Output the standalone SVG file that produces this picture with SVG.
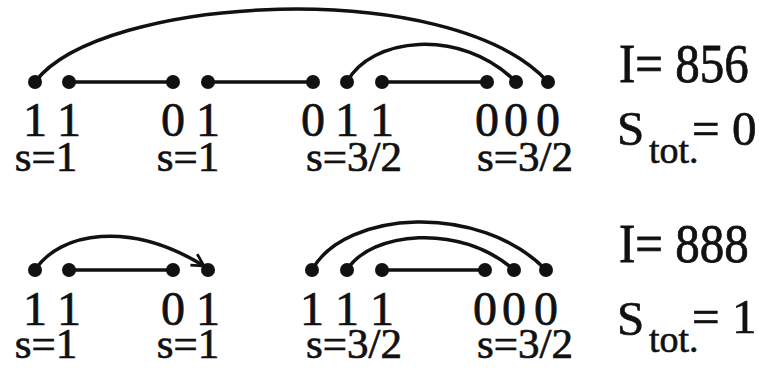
<svg xmlns="http://www.w3.org/2000/svg" width="759" height="369" viewBox="0 0 759 369" font-family="Liberation Serif, DejaVu Serif, serif">
<style>
.bg{fill:#fff}
.dot{fill:#111}
.ln{stroke:#111;stroke-width:3.5;fill:none;stroke-linecap:round}
.arc{stroke:#111;stroke-width:3.5;fill:none;stroke-linecap:round}
.dig{font-size:48px;text-anchor:middle;fill:#111;stroke:#111;stroke-width:0.7}
.sl{font-size:43px;text-anchor:middle;fill:#111;stroke:#111;stroke-width:0.7}
.big{font-size:49px;fill:#111;stroke:#111;stroke-width:0.7}
.sub{font-size:38px;fill:#111;stroke:#111;stroke-width:0.6}
</style>
<defs>
<marker id="vee" markerWidth="16" markerHeight="16" refX="13" refY="8" orient="auto" markerUnits="userSpaceOnUse">
<path d="M1,1.5 L13,8 L1,14.5" fill="none" stroke="#111" stroke-width="2.8"/>
</marker>
</defs>
<rect class="bg" x="0" y="0" width="759" height="369"/>

<g id="connectors">
<path class="arc" d="M35,82 C100,-5 450,-25 548,82"/>
<path class="arc" d="M347,82 C370,38 460,26 516,82"/>
<line class="ln" x1="69" y1="82" x2="173" y2="82"/>
<line class="ln" x1="208" y1="82" x2="313" y2="82"/>
<line class="ln" x1="382" y1="82" x2="487" y2="82"/>
<path class="arc" d="M35,270 C60,232 130,220 204,266" marker-end="url(#vee)"/>
<line class="ln" x1="69" y1="270" x2="173" y2="270"/>
<path class="arc" d="M312,270 C345,210 480,202 546,270"/>
<path class="arc" d="M347,270 C370,232 460,222 514,270"/>
<line class="ln" x1="382" y1="270" x2="485" y2="270"/>
</g>

<g id="row1">
<g id="n1"><circle class="dot" cx="35" cy="82" r="7"/><text class="dig" x="35" y="136">1</text></g>
<g id="n2"><circle class="dot" cx="69" cy="82" r="7"/><text class="dig" x="69" y="136">1</text></g>
<g id="n3"><circle class="dot" cx="173" cy="82" r="7"/><text class="dig" x="173" y="136">0</text></g>
<g id="n4"><circle class="dot" cx="208" cy="82" r="7"/><text class="dig" x="208" y="136">1</text></g>
<g id="n5"><circle class="dot" cx="313" cy="82" r="7"/><text class="dig" x="313" y="136">0</text></g>
<g id="n6"><circle class="dot" cx="347" cy="82" r="7"/><text class="dig" x="347" y="136">1</text></g>
<g id="n7"><circle class="dot" cx="382" cy="82" r="7"/><text class="dig" x="382" y="136">1</text></g>
<g id="n8"><circle class="dot" cx="487" cy="82" r="7"/><text class="dig" x="487" y="136">0</text></g>
<g id="n9"><circle class="dot" cx="516" cy="82" r="7"/><text class="dig" x="516" y="136">0</text></g>
<g id="n10"><circle class="dot" cx="548" cy="82" r="7"/><text class="dig" x="548" y="136">0</text></g>
<g id="s1"><text class="sl" x="46" y="171">s=1</text></g>
<g id="s2"><text class="sl" x="188" y="171">s=1</text></g>
<g id="s3"><text class="sl" x="354" y="171">s=3/2</text></g>
<g id="s4"><text class="sl" x="525" y="171">s=3/2</text></g>
<g id="info1">
<text class="big" transform="translate(619,82) scale(1,1.12)">I= 856</text>
<text class="big" x="617" y="145">S</text>
<text class="sub" x="649" y="163">tot.</text>
<text class="big" x="692" y="145">= 0</text>
</g>
</g>

<g id="row2">
<g id="m1"><circle class="dot" cx="35" cy="270" r="7"/><text class="dig" x="35" y="325">1</text></g>
<g id="m2"><circle class="dot" cx="69" cy="270" r="7"/><text class="dig" x="69" y="325">1</text></g>
<g id="m3"><circle class="dot" cx="173" cy="270" r="7"/><text class="dig" x="173" y="325">0</text></g>
<g id="m4"><circle class="dot" cx="208" cy="270" r="7"/><text class="dig" x="208" y="325">1</text></g>
<g id="m5"><circle class="dot" cx="312" cy="270" r="7"/><text class="dig" x="312" y="325">1</text></g>
<g id="m6"><circle class="dot" cx="347" cy="270" r="7"/><text class="dig" x="347" y="325">1</text></g>
<g id="m7"><circle class="dot" cx="382" cy="270" r="7"/><text class="dig" x="382" y="325">1</text></g>
<g id="m8"><circle class="dot" cx="485" cy="270" r="7"/><text class="dig" x="485" y="325">0</text></g>
<g id="m9"><circle class="dot" cx="514" cy="270" r="7"/><text class="dig" x="514" y="325">0</text></g>
<g id="m10"><circle class="dot" cx="546" cy="270" r="7"/><text class="dig" x="546" y="325">0</text></g>
<g id="t1"><text class="sl" x="46" y="358">s=1</text></g>
<g id="t2"><text class="sl" x="188" y="358">s=1</text></g>
<g id="t3"><text class="sl" x="354" y="358">s=3/2</text></g>
<g id="t4"><text class="sl" x="525" y="358">s=3/2</text></g>
<g id="info2">
<text class="big" transform="translate(619,262) scale(1,1.12)">I= 888</text>
<text class="big" x="617" y="335">S</text>
<text class="sub" x="649" y="352">tot.</text>
<text class="big" x="692" y="333">= 1</text>
</g>
</g>
</svg>
